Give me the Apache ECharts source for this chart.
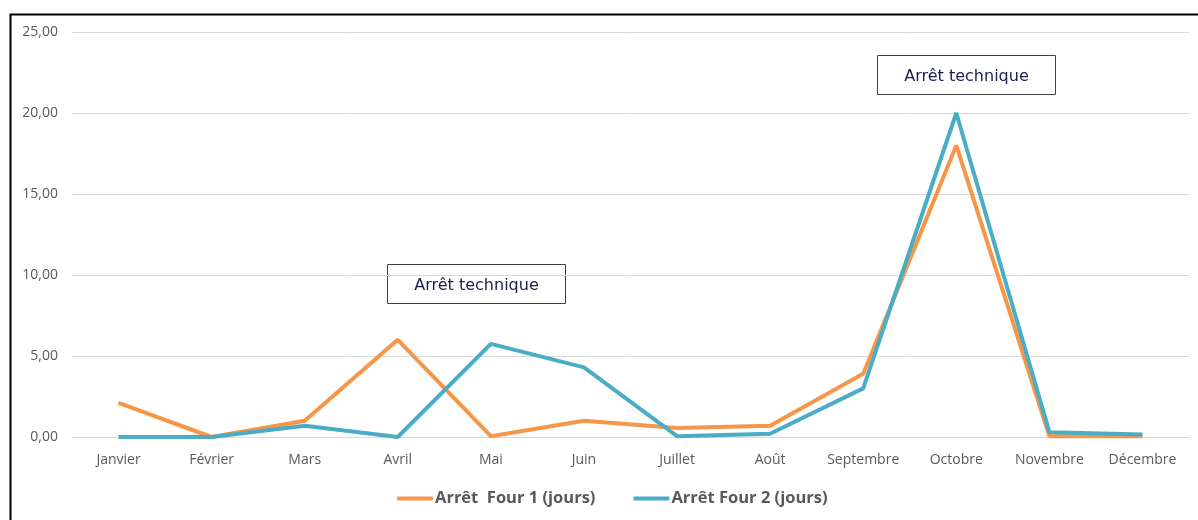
<!DOCTYPE html>
<html>
<head>
<meta charset="utf-8">
<script src="https://cdn.jsdelivr.net/npm/echarts@6/dist/echarts.min.js"></script>
<style>
  html, body { margin: 0; padding: 0; background: #fff; }
  #chart { width: 1198px; height: 520px; }
</style>
</head>
<body>
<div id="chart"></div>
<script>
const months = ['Janvier', 'Février', 'Mars', 'Avril', 'Mai', 'Juin', 'Juillet', 'Août', 'Septembre', 'Octobre', 'Novembre', 'Décembre']
const four1 = [2.1, 0.0, 1.0, 6.0, 0.05, 1.0, 0.55, 0.7, 3.9, 18.0, 0.05, 0.05]
const four2 = [0.0, 0.0, 0.7, 0.0, 5.75, 4.3, 0.05, 0.2, 3.0, 20.0, 0.3, 0.15]
const seriesNames = ['Arrêt  Four 1 (jours)', 'Arrêt Four 2 (jours)']
const noteText = 'Arrêt technique'

const chart = echarts.init(document.getElementById('chart'))
const labelColor = '#595959'

const noteBox = (left, top) => ({
  type: 'group',
  left: left,
  top: top,
  children: [
    {
      type: 'rect',
      shape: { x: 0, y: 0, width: 178, height: 39 },
      style: { fill: '#fff', stroke: '#404040', lineWidth: 1 },
    },
    {
      type: 'text',
      x: 89,
      y: 21,
      style: {
        text: noteText,
        fill: '#1a1f4d',
        font: '16px "DejaVu Sans", Verdana, sans-serif',
        align: 'center',
        verticalAlign: 'middle',
      },
    },
  ],
})

const option = {
  backgroundColor: '#fff',
  animation: false,
  grid: { left: 72, right: 9, top: 32, bottom: 83 },
  legend: {
    bottom: 8,
    left: 392,
    itemWidth: 36,
    itemHeight: 4,
    itemGap: 38,
    icon: 'roundRect',
    textStyle: {
      color: labelColor,
      fontWeight: 'bold',
      fontSize: 16.5,
      fontFamily: '"Open Sans", "Noto Sans", sans-serif',
      padding: [0, 0, 0, -3],
    },
    data: seriesNames,
  },
  xAxis: {
    type: 'category',
    data: months,
    boundaryGap: true,
    axisLine: { show: true, lineStyle: { color: '#d9d9d9', width: 1 } },
    axisTick: { show: false },
    axisLabel: {
      interval: 0,
      color: labelColor,
      fontSize: 14,
      margin: 16,
      fontFamily: '"Open Sans", "Noto Sans", sans-serif',
    },
  },
  yAxis: {
    type: 'value',
    min: 0,
    max: 25,
    interval: 5,
    axisLine: { show: false },
    axisTick: { show: false },
    splitLine: { lineStyle: { color: '#d9d9d9', width: 1 } },
    axisLabel: {
      color: labelColor,
      fontSize: 14,
      margin: 14,
      fontFamily: '"Open Sans", "Noto Sans", sans-serif',
      formatter: (v) => v.toFixed(2).replace('.', ','),
    },
  },
  series: [
    {
      name: seriesNames[0],
      type: 'line',
      data: four1,
      symbol: 'none',
      lineStyle: { color: '#f79646', width: 4 },
      itemStyle: { color: '#f79646' },
      z: 2,
    },
    {
      name: seriesNames[1],
      type: 'line',
      data: four2,
      symbol: 'none',
      lineStyle: { color: '#4bacc6', width: 4 },
      itemStyle: { color: '#4bacc6' },
      z: 3,
    },
  ],
  graphic: [
    {
      type: 'rect',
      left: 8,
      top: 12,
      shape: { x: 0, y: 0, width: 1200, height: 520 },
      style: { fill: 'none', stroke: '#000', lineWidth: 2 },
      silent: true,
    },
    noteBox(387, 264),
    noteBox(877, 55),
  ],
}

chart.setOption(option)
</script>
</body>
</html>
